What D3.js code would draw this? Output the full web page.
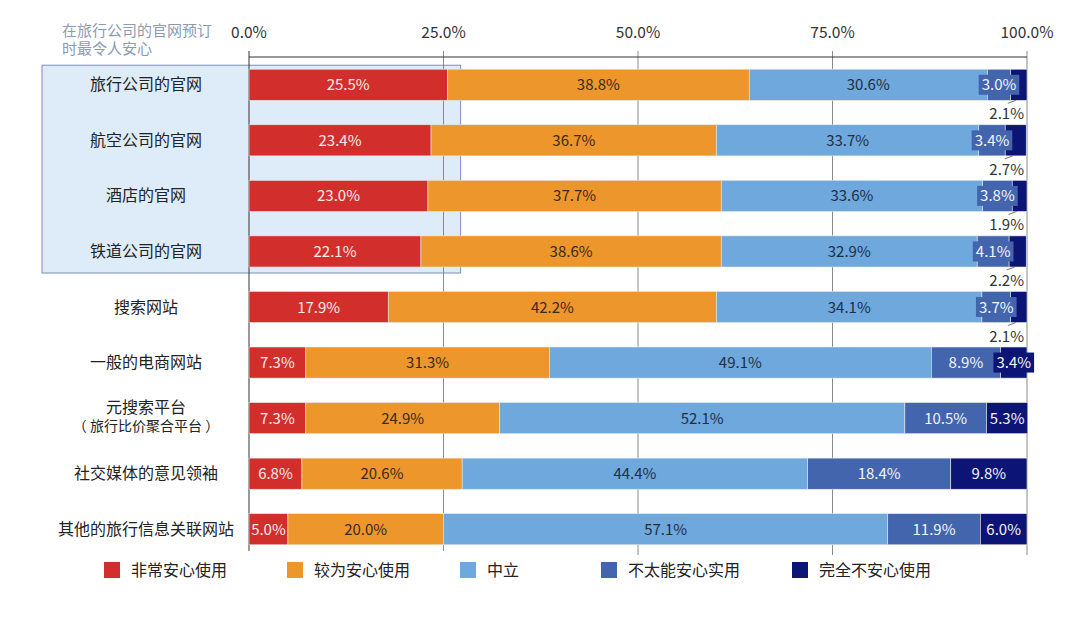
<!DOCTYPE html>
<html>
<head>
<meta charset="utf-8">
<script src="https://cdn.jsdelivr.net/npm/d3@7"></script>
<style>
  body { margin: 0; background: #fff; }
  text { font-family: "Noto Sans CJK SC", "Noto Sans", sans-serif; }
</style>
</head>
<body>
<div id="wrapper"></div>
<script>
const categories = ["旅行公司的官网", "航空公司的官网", "酒店的官网", "铁道公司的官网", "搜索网站",
  "一般的电商网站", "元搜索平台\n（ 旅行比价聚合平台 ）", "社交媒体的意见领袖", "其他的旅行信息关联网站"]
const seriesNames = ["非常安心使用", "较为安心使用", "中立", "不太能安心实用", "完全不安心使用"]
const veryReassured = [25.5, 23.4, 23.0, 22.1, 17.9, 7.3, 7.3, 6.8, 5.0]
const fairlyReassured = [38.8, 36.7, 37.7, 38.6, 42.2, 31.3, 24.9, 20.6, 20.0]
const neutral = [30.6, 33.7, 33.6, 32.9, 34.1, 49.1, 52.1, 44.4, 57.1]
const notReally = [3.0, 3.4, 3.8, 4.1, 3.7, 8.9, 10.5, 18.4, 11.9]
const notAtAll = [2.1, 2.7, 1.9, 2.2, 2.1, 3.4, 5.3, 9.8, 6.0]
const tickValues = [0, 25, 50, 75, 100]
const highlighted = ["旅行公司的官网", "航空公司的官网", "酒店的官网", "铁道公司的官网"]
const headerNote = ["在旅行公司的官网预订", "时最令人安心"]

const colors = ["#d22f2c", "#ec962c", "#6ea8dc", "#4365ae", "#0c1476"]
const textColors = ["#fbeaea", "#3a2a1a", "#1f2f45", "#f2f4fa", "#f2f4fa"]

const width = 1080, height = 617
const svg = d3.select("#wrapper").append("svg")
  .attr("width", width).attr("height", height)

const x = d3.scaleLinear().domain([0, 100]).range([249, 1027])
const y = d3.scaleBand().domain(categories).range([57, 557]).paddingInner(0.44).paddingOuter(0.22)

const values = [veryReassured, fairlyReassured, neutral, notReally, notAtAll]
const table = categories.map((c, i) => {
  const row = { cat: c }
  seriesNames.forEach((s, k) => row[s] = values[k][i])
  return row
})
const stacked = d3.stack().keys(seriesNames)(table)

// highlight box behind the first four rows
const hiTop = y(highlighted[0]) - 4
const hiBottom = y(highlighted[highlighted.length - 1]) + y.bandwidth() + 6
svg.append("rect")
  .attr("x", 42).attr("y", hiTop)
  .attr("width", x(27.2) - 42).attr("height", hiBottom - hiTop)
  .attr("fill", "#deebf8").attr("stroke", "#7d8cc0").attr("stroke-width", 1)

// header note
svg.append("g").selectAll("text").data(headerNote).join("text")
  .attr("x", 62).attr("y", (d, i) => 36 + i * 18)
  .attr("font-size", 15).attr("fill", "#8d9ab3")
  .text(d => d)

// gridlines / axis
const axisG = svg.append("g")
axisG.selectAll("line.grid").data(tickValues).join("line")
  .attr("class", "grid")
  .attr("x1", d => x(d)).attr("x2", d => x(d))
  .attr("y1", 51).attr("y2", d => d <= 25 ? 551 : 555)
  .attr("stroke", d => d === 0 ? "#333" : "#8a8a8a").attr("stroke-width", 1)
axisG.append("line")
  .attr("x1", x(0)).attr("x2", x(100)).attr("y1", 57).attr("y2", 57)
  .attr("stroke", "#333")
axisG.selectAll("text").data(tickValues).join("text")
  .attr("x", d => x(d)).attr("y", 38)
  .attr("text-anchor", "middle").attr("font-size", 15.5).attr("fill", "#333")
  .text(d => d.toFixed(1) + "%")

// bars
const layers = svg.append("g").selectAll("g").data(stacked).join("g")
  .attr("fill", (d, i) => colors[i])
layers.selectAll("rect").data(d => d).join("rect")
  .attr("x", d => x(d[0]))
  .attr("y", d => y(d.data.cat))
  .attr("width", d => x(d[1]) - x(d[0]))
  .attr("height", y.bandwidth())
  .attr("stroke", "#e6e6e6").attr("stroke-width", 0.6)

// value labels
const labelG = svg.append("g")
stacked.forEach((layer, k) => {
  layer.forEach(d => {
    const v = d.data[layer.key]
    const txt = v.toFixed(1) + "%"
    const x0 = x(d[0]), x1 = x(d[1])
    const cx = (x0 + x1) / 2
    const cy = y(d.data.cat) + y.bandwidth() / 2
    const w = x1 - x0
    if (w < 22) {
      // put below the bar with a short leader line
      const by = y(d.data.cat) + y.bandwidth()
      labelG.append("line")
        .attr("x1", cx - 3).attr("y1", by).attr("x2", cx - 11).attr("y2", by + 3)
        .attr("stroke", "#555").attr("stroke-width", 0.8)
      labelG.append("text")
        .attr("x", 1024).attr("y", by + 19)
        .attr("text-anchor", "end").attr("font-size", 15).attr("fill", "#333")
        .text(txt)
      return
    }
    const t = labelG.append("text")
      .attr("x", cx).attr("y", cy + 5.5)
      .attr("text-anchor", "middle").attr("font-size", 15)
      .attr("fill", textColors[k])
      .text(txt)
    const tw = t.node().getComputedTextLength()
    if (tw + 4 > w) {
      labelG.insert("rect", function () { return t.node() })
        .attr("x", cx - tw / 2 - 3).attr("y", cy - 10)
        .attr("width", tw + 6).attr("height", 20)
        .attr("fill", colors[k])
    }
  })
})

// category labels
const catG = svg.append("g").selectAll("text").data(categories).join("text")
  .attr("text-anchor", "middle").attr("fill", "#222")
catG.each(function (d) {
  const lines = d.split("\n")
  const cy = y(d) + y.bandwidth() / 2
  const el = d3.select(this)
  lines.forEach((ln, j) => {
    el.append("tspan")
      .attr("x", 146)
      .attr("y", lines.length === 1 ? cy + 5.5 : cy - 5 + j * 18)
      .attr("font-size", j === 0 ? 16 : 14)
      .text(ln)
  })
})

// legend
const legendX = [104, 287, 460, 601, 792]
const legend = svg.append("g").selectAll("g").data(seriesNames).join("g")
  .attr("transform", (d, i) => `translate(${legendX[i]},562)`)
legend.append("rect").attr("width", 16).attr("height", 16)
  .attr("fill", (d, i) => colors[i])
legend.append("text").attr("x", 27).attr("y", 14)
  .attr("font-size", 16).attr("fill", "#222")
  .text(d => d)
</script>
</body>
</html>
